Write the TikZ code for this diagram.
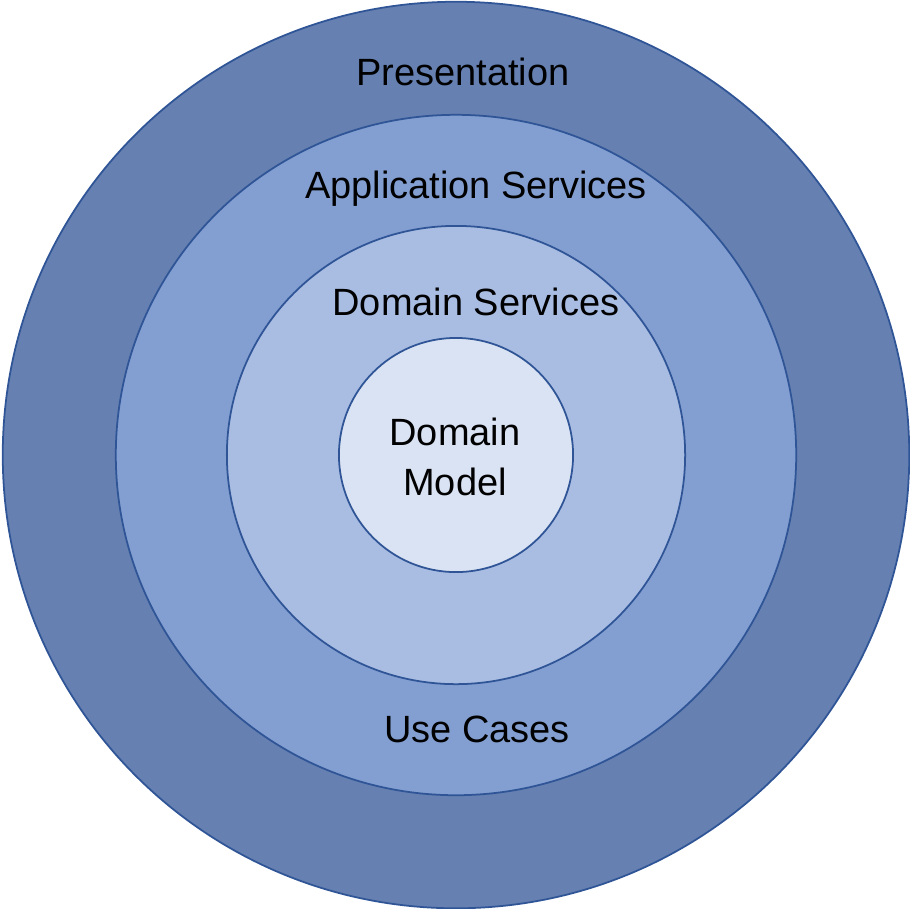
\documentclass[tikz,border=0pt]{standalone}
\usepackage{fontspec}
\setmainfont{Liberation Sans}
\definecolor{ringOne}{HTML}{6580B1}
\definecolor{ringTwo}{HTML}{839FD1}
\definecolor{ringThree}{HTML}{A9BDE3}
\definecolor{ringFour}{HTML}{DAE3F3}
\definecolor{ringLine}{HTML}{2F5597}
\begin{document}
    \begin{tikzpicture}[
        x=0.01cm, y=-0.01cm,
        ring/.style={circle, draw=ringLine, line width=0.5pt, inner sep=0pt},
        label/.style={font=\fontsize{10.8}{14.2}\selectfont, align=center, inner sep=0pt}
    ]
        \useasboundingbox (0,0) rectangle (910,908);

        % Ringe von aussen nach innen
        \node [ring, fill=ringOne, minimum size=9.06cm] (presentation) at (456,455) {};
        \node [ring, fill=ringTwo, minimum size=6.80cm] (application) at (456,455) {};
        \node [ring, fill=ringThree, minimum size=4.58cm] (domainsvc) at (456,455) {};
        \node [ring, fill=ringFour, minimum size=2.34cm] (model) at (456,455) {};

        % Beschriftungen
        \node [label] (presentationText) at (463,72) {Presentation};
        \node [label] (applicationText) at (476,189) {Application Services};
        \node [label] (domainsvcText) at (476,302) {Domain Services};
        \node [label] (modelText) at (455,457) {Domain\\Model};
        \node [label] (usecasesText) at (477,729) {Use Cases};
    \end{tikzpicture}
\end{document}
